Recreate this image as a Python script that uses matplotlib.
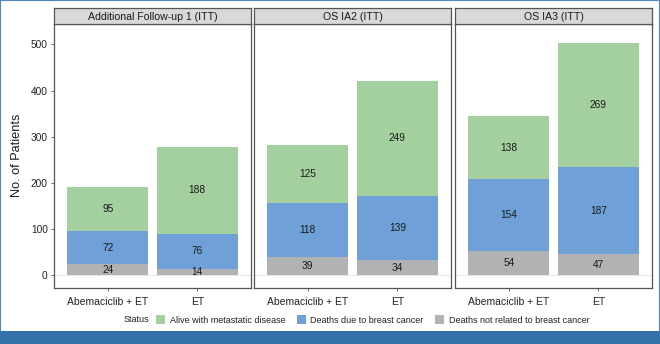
import matplotlib
matplotlib.use("Agg")
import matplotlib.pyplot as plt
from matplotlib.patches import Rectangle, Patch
import numpy as np

plt.rcParams['font.family'] = ['Liberation Sans', 'DejaVu Sans']

panels = ["Additional Follow-up 1 (ITT)", "OS IA2 (ITT)", "OS IA3 (ITT)"]
arms = ["Abemaciclib + ET", "ET"]
status = ["Alive with metastatic disease", "Deaths due to breast cancer",
          "Deaths not related to breast cancer"]
# values per panel: [arm1, arm2]
not_related = [[24, 14], [39, 34], [54, 47]]
bc_deaths = [[72, 76], [118, 139], [154, 187]]
alive_met = [[95, 188], [125, 249], [138, 269]]
yticks = [0, 100, 200, 300, 400, 500]

c_green = "#a4cf9f"
c_blue = "#6fa1d8"
c_gray = "#b1b2b4"

W, H = 660, 344
fig = plt.figure(figsize=(6.6, 3.44), dpi=100)
fig.patch.set_facecolor("white")

lefts = [54, 254, 455]
pw = 197
pbot, ptop = 287.5, 23.7
strip_h = 15.7

for i, name in enumerate(panels):
    ax = fig.add_axes([lefts[i] / W, (H - pbot) / H, pw / W, (pbot - ptop) / H])
    x = np.arange(1, 3)
    b1 = np.array(not_related[i])
    b2 = np.array(bc_deaths[i])
    b3 = np.array(alive_met[i])
    ax.bar(x, b1, width=0.9, color=c_gray, zorder=2)
    ax.bar(x, b2, width=0.9, bottom=b1, color=c_blue, zorder=2)
    ax.bar(x, b3, width=0.9, bottom=b1 + b2, color=c_green, zorder=2)
    for xi in range(2):
        for bot, val in [(0, b1[xi]), (b1[xi], b2[xi]), (b1[xi] + b2[xi], b3[xi])]:
            ax.text(x[xi], bot + val / 2, str(val), ha="center", va="center",
                    fontsize=7.3, color="#1a1a1a", zorder=3)
    ax.axhline(0, color="#e6e6e6", lw=0.8, zorder=1)
    ax.set_xlim(0.4, 2.6)
    ax.set_ylim(-26, 545)
    ax.set_xticks(x)
    ax.set_xticklabels(arms, fontsize=7.5, color="#222222")
    ax.set_yticks(yticks)
    if i == 0:
        ax.set_yticklabels([str(v) for v in yticks], fontsize=7.3, color="#222222")
    else:
        ax.tick_params(axis="y", left=False, labelleft=False)
    ax.tick_params(axis="both", length=2.5, width=0.6, color="#555555", pad=2)
    ax.tick_params(axis="x", pad=4)
    for s in ax.spines.values():
        s.set_color("#555555")
        s.set_linewidth(0.9)
    # strip
    sax = fig.add_axes([lefts[i] / W, (H - ptop) / H, pw / W, strip_h / H])
    sax.set_facecolor("#d9d9d9")
    sax.set_xticks([]); sax.set_yticks([])
    for s in sax.spines.values():
        s.set_color("#555555")
        s.set_linewidth(0.9)
    sax.text(0.5, 0.45, name, ha="center", va="center", fontsize=7.6,
             color="#1a1a1a", transform=sax.transAxes)

fig.text(17 / W, (H - 155) / H, "No. of Patients", rotation=90, ha="center",
         va="center", fontsize=9.2, color="#1a1a1a")

# legend
fig.text(136 / W, (H - 320) / H, "Status", ha="center", va="center",
         fontsize=6.5, color="#222222")
handles = [Patch(facecolor=c, edgecolor="none") for c in (c_green, c_blue, c_gray)]
fig.legend(handles, status, loc="center left", bbox_to_anchor=(156 / W, (H - 320) / H),
           ncol=3, frameon=False, fontsize=6.5, handlelength=1.0, handleheight=1.0,
           handletextpad=0.5, columnspacing=1.3, labelcolor="#222222",
           borderaxespad=0, borderpad=0)

# frame and bottom band
fig.add_artist(Rectangle((0, 0), 1, 1, transform=fig.transFigure, fill=False,
                         edgecolor="#4f86bf", lw=1.5, zorder=0))
fig.add_artist(Rectangle((0, 0), 1, 13 / H, transform=fig.transFigure,
                         facecolor="#3471aa", edgecolor="none", zorder=5))

fig.savefig("out.png", dpi=100, facecolor="white")
